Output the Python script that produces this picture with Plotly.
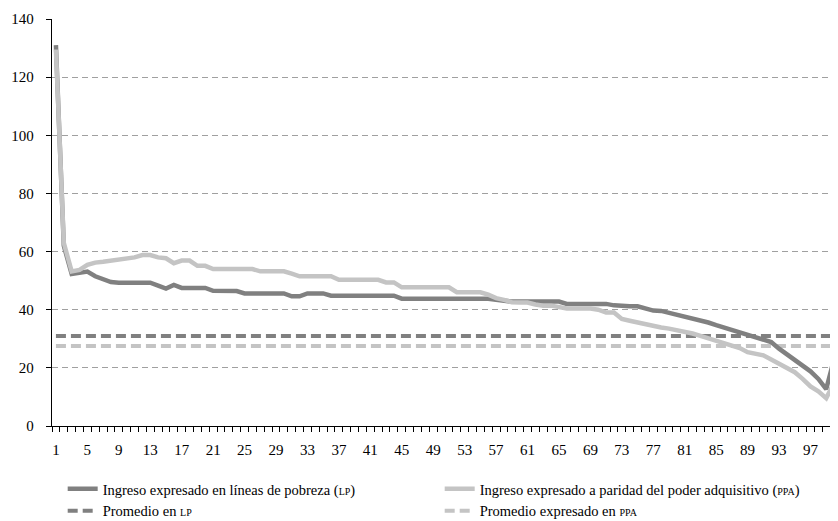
import plotly.graph_objects as go

categories = list(range(1, 101))

ingreso_lp = [
    131, 62, 52.3, 52.8, 53.1, 51.5, 50.3, 49.5, 49.3, 49.3,
    49.3, 49.3, 49.3, 48.3, 47.3, 48.5, 47.5, 47.5, 47.5, 47.5,
    46.5, 46.4, 46.4, 46.4, 45.6, 45.6, 45.6, 45.6, 45.6, 45.6,
    44.6, 44.6, 45.6, 45.6, 45.6, 44.8, 44.8, 44.8, 44.8, 44.8,
    44.8, 44.8, 44.8, 44.8, 43.8, 43.8, 43.8, 43.8, 43.8, 43.8,
    43.8, 43.8, 43.8, 43.8, 43.8, 43.8, 43.4, 43.0, 42.8, 42.8,
    42.8, 42.8, 42.8, 42.8, 42.8, 42.0, 42.0, 42.0, 42.0, 42.0,
    42.0, 41.5, 41.2, 41.2, 41.2, 40.5, 39.7, 39.6, 38.9, 38.2,
    37.7, 37.0, 36.5, 35.6, 34.7, 33.9, 33.0, 32.4, 31.3, 30.6,
    29.8, 28.9, 26.6, 24.6, 22.6, 20.8, 18.8, 16.2, 12.7, 23.0,
]

ingreso_ppa = [
    129.5, 63, 53.2, 53.7, 55.4, 56.2, 56.5, 56.8, 57.4, 57.7,
    58.0, 58.8, 58.8, 58.0, 57.7, 56.0, 56.9, 56.9, 55.1, 55.1,
    54.0, 54.0, 54.0, 54.0, 54.0, 54.0, 53.2, 53.2, 53.2, 53.2,
    52.4, 51.5, 51.5, 51.5, 51.5, 51.5, 50.3, 50.3, 50.3, 50.3,
    50.3, 50.3, 49.4, 49.4, 47.7, 47.7, 47.7, 47.7, 47.7, 47.7,
    47.7, 46.0, 46.0, 46.0, 46.0, 45.2, 44.0, 43.4, 42.6, 42.5,
    42.5, 41.8, 41.4, 41.4, 41.0, 40.4, 40.4, 40.4, 40.4, 40.0,
    39.0, 39.0, 36.8, 36.2, 35.6, 34.8, 34.4, 33.9, 33.5, 33.0,
    32.3, 31.8, 31.0, 30.1, 29.2, 28.4, 27.5, 26.8, 25.4, 25.0,
    24.3, 22.9, 21.5, 20.3, 18.5, 16.2, 13.6, 11.9, 9.6, 14.8,
]

promedio_lp = [31.0] * 100
promedio_ppa = [27.5] * 100

tick_labels = [str(v) for v in range(1, 101, 4)]
y_ticks = [0, 20, 40, 60, 80, 100, 120, 140]

DARK = "#808080"
LIGHT = "#c4c4c4"
FONT = "'Liberation Serif', 'DejaVu Serif', serif"

sc = lambda s: "<span style='font-size:10px'>%s</span>" % s

fig = go.Figure()
fig.add_trace(go.Scatter(
    x=categories, y=promedio_lp, mode="lines", legendrank=3,
    name="Promedio en " + sc("LP"),
    line=dict(color=DARK, width=4, dash="10px,5px"),
))
fig.add_trace(go.Scatter(
    x=categories, y=promedio_ppa, mode="lines", legendrank=4,
    name="Promedio expresado en " + sc("PPA"),
    line=dict(color=LIGHT, width=4, dash="10px,5px"),
))
fig.add_trace(go.Scatter(
    x=categories, y=ingreso_lp, mode="lines", legendrank=1,
    name="Ingreso expresado en líneas de pobreza (" + sc("LP") + ")",
    line=dict(color=DARK, width=4.5),
))
fig.add_trace(go.Scatter(
    x=categories, y=ingreso_ppa, mode="lines", legendrank=2,
    name="Ingreso expresado a paridad del poder adquisitivo (" + sc("PPA") + ")",
    line=dict(color=LIGHT, width=4.5),
))

# page body has an 8px margin, so the figure is sized to the visible area
fig.update_layout(
    width=830, height=513,
    margin=dict(l=44, r=0, t=11, b=95, autoexpand=False),
    paper_bgcolor="white", plot_bgcolor="white",
    font=dict(family=FONT, size=15, color="black"),
    showlegend=True,
    legend=dict(
        orientation="h", x=0.0136, xanchor="left",
        yref="container", y=0.0937, yanchor="top",
        font=dict(family=FONT, size=14.5, color="black"),
        entrywidth=332, entrywidthmode="pixels",
        traceorder="normal", bgcolor="rgba(0,0,0,0)",
    ),
)
fig.update_xaxes(
    range=[0.5, 100.5],
    tickmode="array",
    tickvals=[int(t) for t in tick_labels],
    ticktext=tick_labels,
    ticks="",
    showgrid=False, zeroline=False,
    showline=True, linecolor="black", linewidth=1.3,
    minor=dict(ticks="outside", tick0=0.5, dtick=1, ticklen=5,
               tickcolor="black", tickwidth=1, showgrid=False),
    ticklabelstandoff=10,
    tickfont=dict(family=FONT, size=15),
)
fig.update_yaxes(
    range=[0, 140],
    tickmode="array", tickvals=y_ticks,
    ticks="outside", ticklen=5, tickcolor="black",
    showline=True, linecolor="black", linewidth=1.3,
    showgrid=True, gridcolor="#a0a0a0", gridwidth=1, griddash="6px,4px",
    zeroline=False,
    ticklabelstandoff=9,
    tickfont=dict(family=FONT, size=15),
)

fig.write_html("out.html")
